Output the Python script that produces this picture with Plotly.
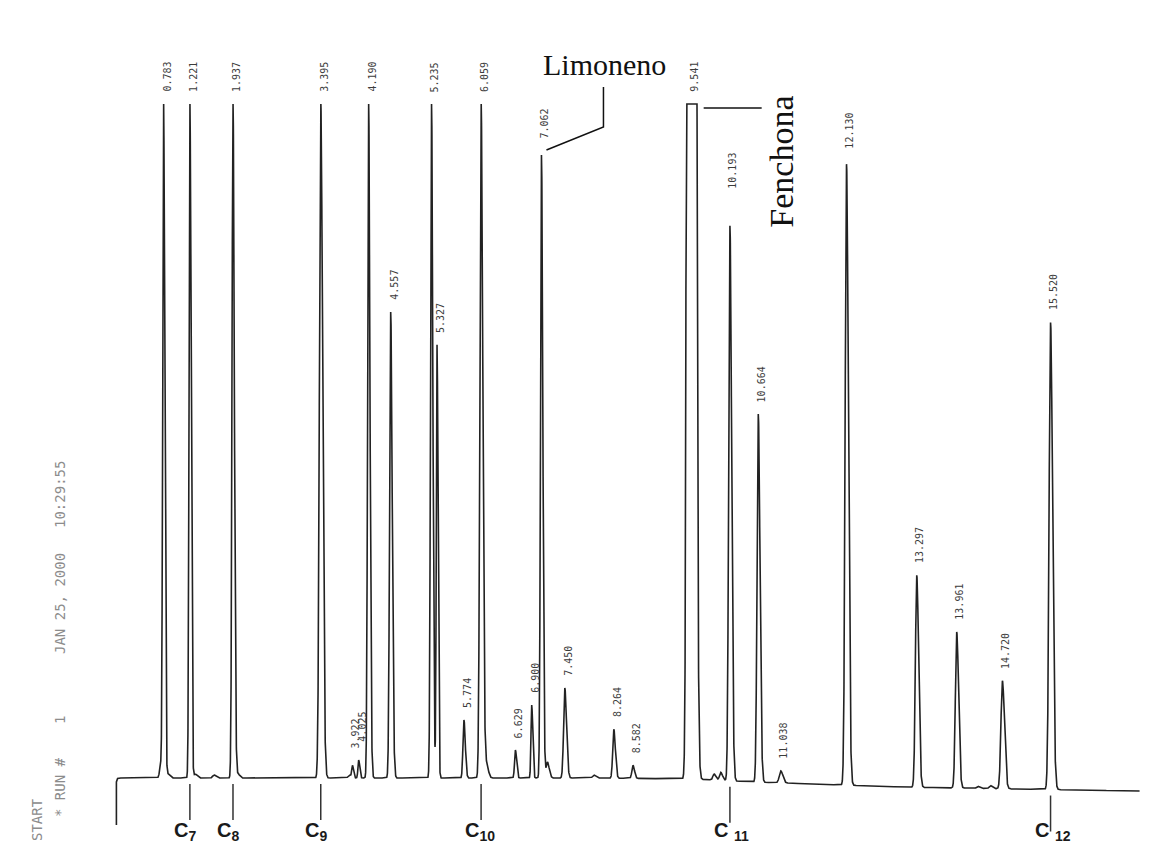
import numpy as np
import plotly.graph_objects as go

# ---- Chromatogram peak table -------------------------------------------------
# retention time (min), height above baseline (detector units), peak sigma (min)
peak_rt = [0.783, 1.221, 1.937, 3.395, 3.922, 4.025, 4.190, 4.557, 5.235, 5.327,
           5.774, 6.059, 6.629, 6.900, 7.062, 7.450, 8.264, 8.582, 9.541, 10.193,
           10.664, 11.038, 12.130, 13.297, 13.961, 14.720, 15.520]
peak_height = [676, 676, 676, 676, 12, 18, 676, 466, 676, 433,
               58, 676, 28, 73, 623, 90, 49, 13, 20000, 555,
               368, 12, 621, 212, 156, 108, 467]
peak_sigma = [0.014, 0.014, 0.016, 0.022, 0.012, 0.012, 0.016, 0.018, 0.016, 0.012,
              0.016, 0.020, 0.014, 0.012, 0.016, 0.020, 0.018, 0.018, 0.029, 0.020,
              0.020, 0.025, 0.022, 0.022, 0.022, 0.024, 0.024]

# unlabelled minor bumps
minor_rt = [0.74, 0.86, 1.31, 1.62, 2.02, 3.87, 6.15, 7.16, 7.93, 9.93, 10.04, 14.31, 14.52]
minor_height = [14, 4, 4, 3, 4, 3, 13, 16, 3, 6, 8, 2, 3]

# baseline drift
bl_t = [0.0, 4.0, 8.0, 9.6, 10.6, 11.6, 13.0, 15.0, 17.0]
bl_level = [0, 0, 0, -1, -4, -6, -9, -11, -13]

# n-alkane reference markers
alkane_rt = [1.221, 1.937, 3.395, 6.059, 10.193, 15.520]
alkane_label = ["C<sub>7</sub>", "C<sub>8</sub>", "C<sub>9</sub>",
                "C<sub>10</sub>", "C <sub>11</sub>", "C <sub>12</sub>"]

# named compounds
limonene_rt = 7.062
fenchone_rt = 9.541

PEN_LIMIT = 674          # recorder full-scale
END_T = 17.0

# ---- page geometry (px -> data) -------------------------------------------------
W, H = 1169, 847
PX_PER_MIN = 60.19
X0_PX = 116.4            # pixel of t = 0
BASE_PX = 778            # pixel of signal 0
x_range = [-X0_PX / PX_PER_MIN, (W - X0_PX) / PX_PER_MIN]
y_range = [BASE_PX - H, BASE_PX]


def px(n):               # horizontal pixels -> minutes
    return n / PX_PER_MIN


def baseline(t):
    return np.interp(t, bl_t, bl_level)


# ---- build detector trace --------------------------------------------------------
t = np.arange(0.04, END_T, 0.001)
sig = baseline(t).astype(float)
for rt, h, s in zip(peak_rt, peak_height, peak_sigma):
    sr = np.where(t < rt, s, 1.4 * s)
    sig += h * np.exp(-0.5 * ((t - rt) / sr) ** 2)
for rt, h in zip(minor_rt, minor_height):
    sr = np.where(t < rt, 0.02, 0.03)
    sig += h * np.exp(-0.5 * ((t - rt) / sr) ** 2)
sig = np.minimum(sig, PEN_LIMIT)

# start marker joined to the trace
tx = np.concatenate([[0.0, 0.0, 0.02], t])
ty = np.concatenate([[-47.0, -4.0, -0.5], sig])

fig = go.Figure()
fig.add_trace(go.Scatter(x=tx, y=ty, mode="lines",
                         line=dict(color="#222222", width=1.6),
                         hoverinfo="skip", showlegend=False))

# alkane tick marks
tick_x, tick_y = [], []
for rt in alkane_rt:
    b = float(baseline(rt))
    tick_x += [rt, rt, None]
    tick_y += [b - 6, b - 42, None]
fig.add_trace(go.Scatter(x=tick_x, y=tick_y, mode="lines",
                         line=dict(color="#333333", width=1.5),
                         hoverinfo="skip", showlegend=False))

annotations = []

# retention time labels above each peak
label_gap = {7.062: 15, 10.193: 35, 12.130: 13, 3.922: 16, 4.025: 16}
for rt, h in zip(peak_rt, peak_height):
    top = min(float(baseline(rt)) + h, PEN_LIMIT)
    annotations.append(dict(
        x=rt, y=top + label_gap.get(rt, 10), xref="x", yref="y",
        text=f"{rt:.3f}", textangle=-90, showarrow=False,
        xanchor="center", yanchor="bottom", xshift=3,
        font=dict(family="DejaVu Sans Mono", size=10, color="#3c3c3c")))

# alkane labels
for rt, lab in zip(alkane_rt, alkane_label):
    annotations.append(dict(
        x=rt, y=BASE_PX - 831, xref="x", yref="y",
        text="<b>" + lab + "</b>", showarrow=False,
        xanchor="left", yanchor="middle", xshift=-18,
        font=dict(family="Liberation Sans", size=20, color="#1a1a1a")))

# limonene call-out
lim_top = float(baseline(limonene_rt)) + peak_height[peak_rt.index(limonene_rt)]
lx0, ly0 = limonene_rt + px(5), lim_top + 5
lx1, ly1 = limonene_rt + px(62), lim_top + 28
fig.add_trace(go.Scatter(x=[lx0, lx1, lx1], y=[ly0, ly1, lim_top + 68], mode="lines",
                         line=dict(color="#111111", width=1.5),
                         hoverinfo="skip", showlegend=False))
annotations.append(dict(
    x=lx1, y=lim_top + 72, xref="x", yref="y", text="Limoneno", showarrow=False,
    xanchor="center", yanchor="bottom", xshift=1,
    font=dict(family="Liberation Serif", size=30, color="#111111")))

# fenchone call-out
fx0, fx1 = fenchone_rt + px(13), fenchone_rt + px(71)
fy = PEN_LIMIT - 4
fig.add_trace(go.Scatter(x=[fx0, fx1], y=[fy, fy], mode="lines",
                         line=dict(color="#111111", width=1.5),
                         hoverinfo="skip", showlegend=False))
annotations.append(dict(
    x=fenchone_rt + px(90), y=fy + 14, xref="x", yref="y", text="Fenchona",
    textangle=-90, showarrow=False, xanchor="center", yanchor="top",
    font=dict(family="Liberation Serif", size=34, color="#111111")))

# integrator header printed along the left edge
def paper(xp, yp):
    return xp / W, 1 - yp / H

for txt, xp, yp in [("* RUN #", 60, 787), ("1", 60, 720),
                    ("JAN 25, 2000", 60, 604), ("10:29:55", 60, 495),
                    ("START", 37, 820)]:
    xx, yy = paper(xp, yp)
    annotations.append(dict(
        x=xx, y=yy, xref="paper", yref="paper", text=txt, textangle=-90,
        showarrow=False, xanchor="center", yanchor="middle",
        font=dict(family="DejaVu Sans Mono", size=14, color="#8c8c8c")))

fig.update_layout(
    width=W, height=H,
    margin=dict(l=0, r=0, t=0, b=0),
    paper_bgcolor="white", plot_bgcolor="white",
    xaxis=dict(range=x_range, visible=False, fixedrange=True),
    yaxis=dict(range=y_range, visible=False, fixedrange=True),
    annotations=annotations,
    showlegend=False,
)

fig.write_html("out.html")
